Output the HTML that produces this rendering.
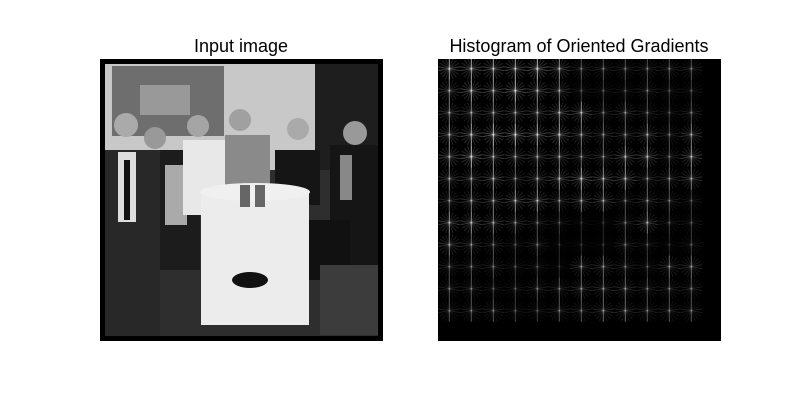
<!DOCTYPE html>
<html><head><meta charset="utf-8"><style>
body{margin:0;background:#fff;width:800px;height:400px;overflow:hidden;font-family:"Liberation Sans",sans-serif}
</style></head><body>
<svg width="800" height="400">
<text x="241" y="52" font-size="18" text-anchor="middle">Input image</text>
<text x="579" y="52" font-size="18" text-anchor="middle">Histogram of Oriented Gradients</text>
<g>
<rect x="100" y="59" width="283" height="282" fill="#000"/>
<rect x="105" y="64" width="273" height="272" fill="#3a3a3a" rx="3"/>
<rect x="105" y="64" width="215" height="110" fill="#c8c8c8"/>
<rect x="112" y="66" width="112" height="70" fill="#6e6e6e"/>
<rect x="140" y="85" width="50" height="30" fill="#999"/>
<rect x="315" y="64" width="63" height="150" fill="#1e1e1e"/>
<rect x="105" y="170" width="273" height="166" fill="#2e2e2e"/>
<rect x="105" y="150" width="55" height="186" fill="#282828"/>
<rect x="118" y="152" width="18" height="70" fill="#ddd"/>
<rect x="124" y="160" width="6" height="60" fill="#111"/>
<rect x="160" y="150" width="40" height="120" fill="#1c1c1c"/>
<rect x="165" y="165" width="22" height="60" fill="#aaa"/>
<rect x="183" y="140" width="45" height="75" fill="#e8e8e8"/>
<rect x="225" y="135" width="45" height="60" fill="#8a8a8a"/>
<rect x="275" y="150" width="45" height="55" fill="#151515"/>
<rect x="330" y="145" width="48" height="140" fill="#151515"/>
<rect x="340" y="155" width="12" height="45" fill="#888"/>
<rect x="270" y="220" width="80" height="60" fill="#111"/>
<rect x="320" y="265" width="58" height="70" fill="#3c3c3c"/>
<rect x="201" y="192" width="108" height="133" fill="#ececec"/>
<ellipse cx="255" cy="192" rx="55" ry="9" fill="#f0f0f0"/>
<ellipse cx="250" cy="280" rx="18" ry="8" fill="#111"/>
<circle cx="126" cy="125" r="12" fill="#aaa"/>
<circle cx="155" cy="138" r="11" fill="#999"/>
<circle cx="198" cy="126" r="11" fill="#a5a5a5"/>
<circle cx="240" cy="120" r="11" fill="#a0a0a0"/>
<circle cx="298" cy="129" r="11" fill="#aaa"/>
<circle cx="355" cy="133" r="12" fill="#999"/>
<rect x="240" y="185" width="10" height="22" fill="#666"/>
<rect x="255" y="185" width="10" height="22" fill="#666"/>
</g>
<rect x="438" y="59" width="283" height="282" fill="#000"/>
<g id="hog"></g>
</svg>
<script>
const hogRows = [
"777786333333",
"576865222322",
"555556634323",
"678877544535",
"686555446636",
"556456766445",
"455664553432",
"665432113522",
"543231113212",
"333221443244",
"332233444333",
"333223344333"];
const ns="http://www.w3.org/2000/svg";
const g=document.getElementById('hog');
const x0=449.3,y0=68.7,step=22;
hogRows.forEach((row,r)=>{
  [...row].forEach((ch,c)=>{
    const v=+ch/10, cx=x0+c*step, cy=y0+r*step;
    for(let k=0;k<9;k++){
      const a=k*Math.PI/9, L=11;
      const op=k===0?Math.min(1,v*0.8+0.1):(k===4||k===5?v*0.35:v*0.2);
      const ln=document.createElementNS(ns,'line');
      
      
      ln.setAttribute('x1',cx-L*Math.sin(a));ln.setAttribute('y1',cy-L*Math.cos(a));
      ln.setAttribute('x2',cx+L*Math.sin(a));ln.setAttribute('y2',cy+L*Math.cos(a));
      ln.setAttribute('stroke','#fff');ln.setAttribute('stroke-width','1');
      ln.setAttribute('opacity',op);
      g.appendChild(ln);
    }
  });
});
</script>
</body></html>
